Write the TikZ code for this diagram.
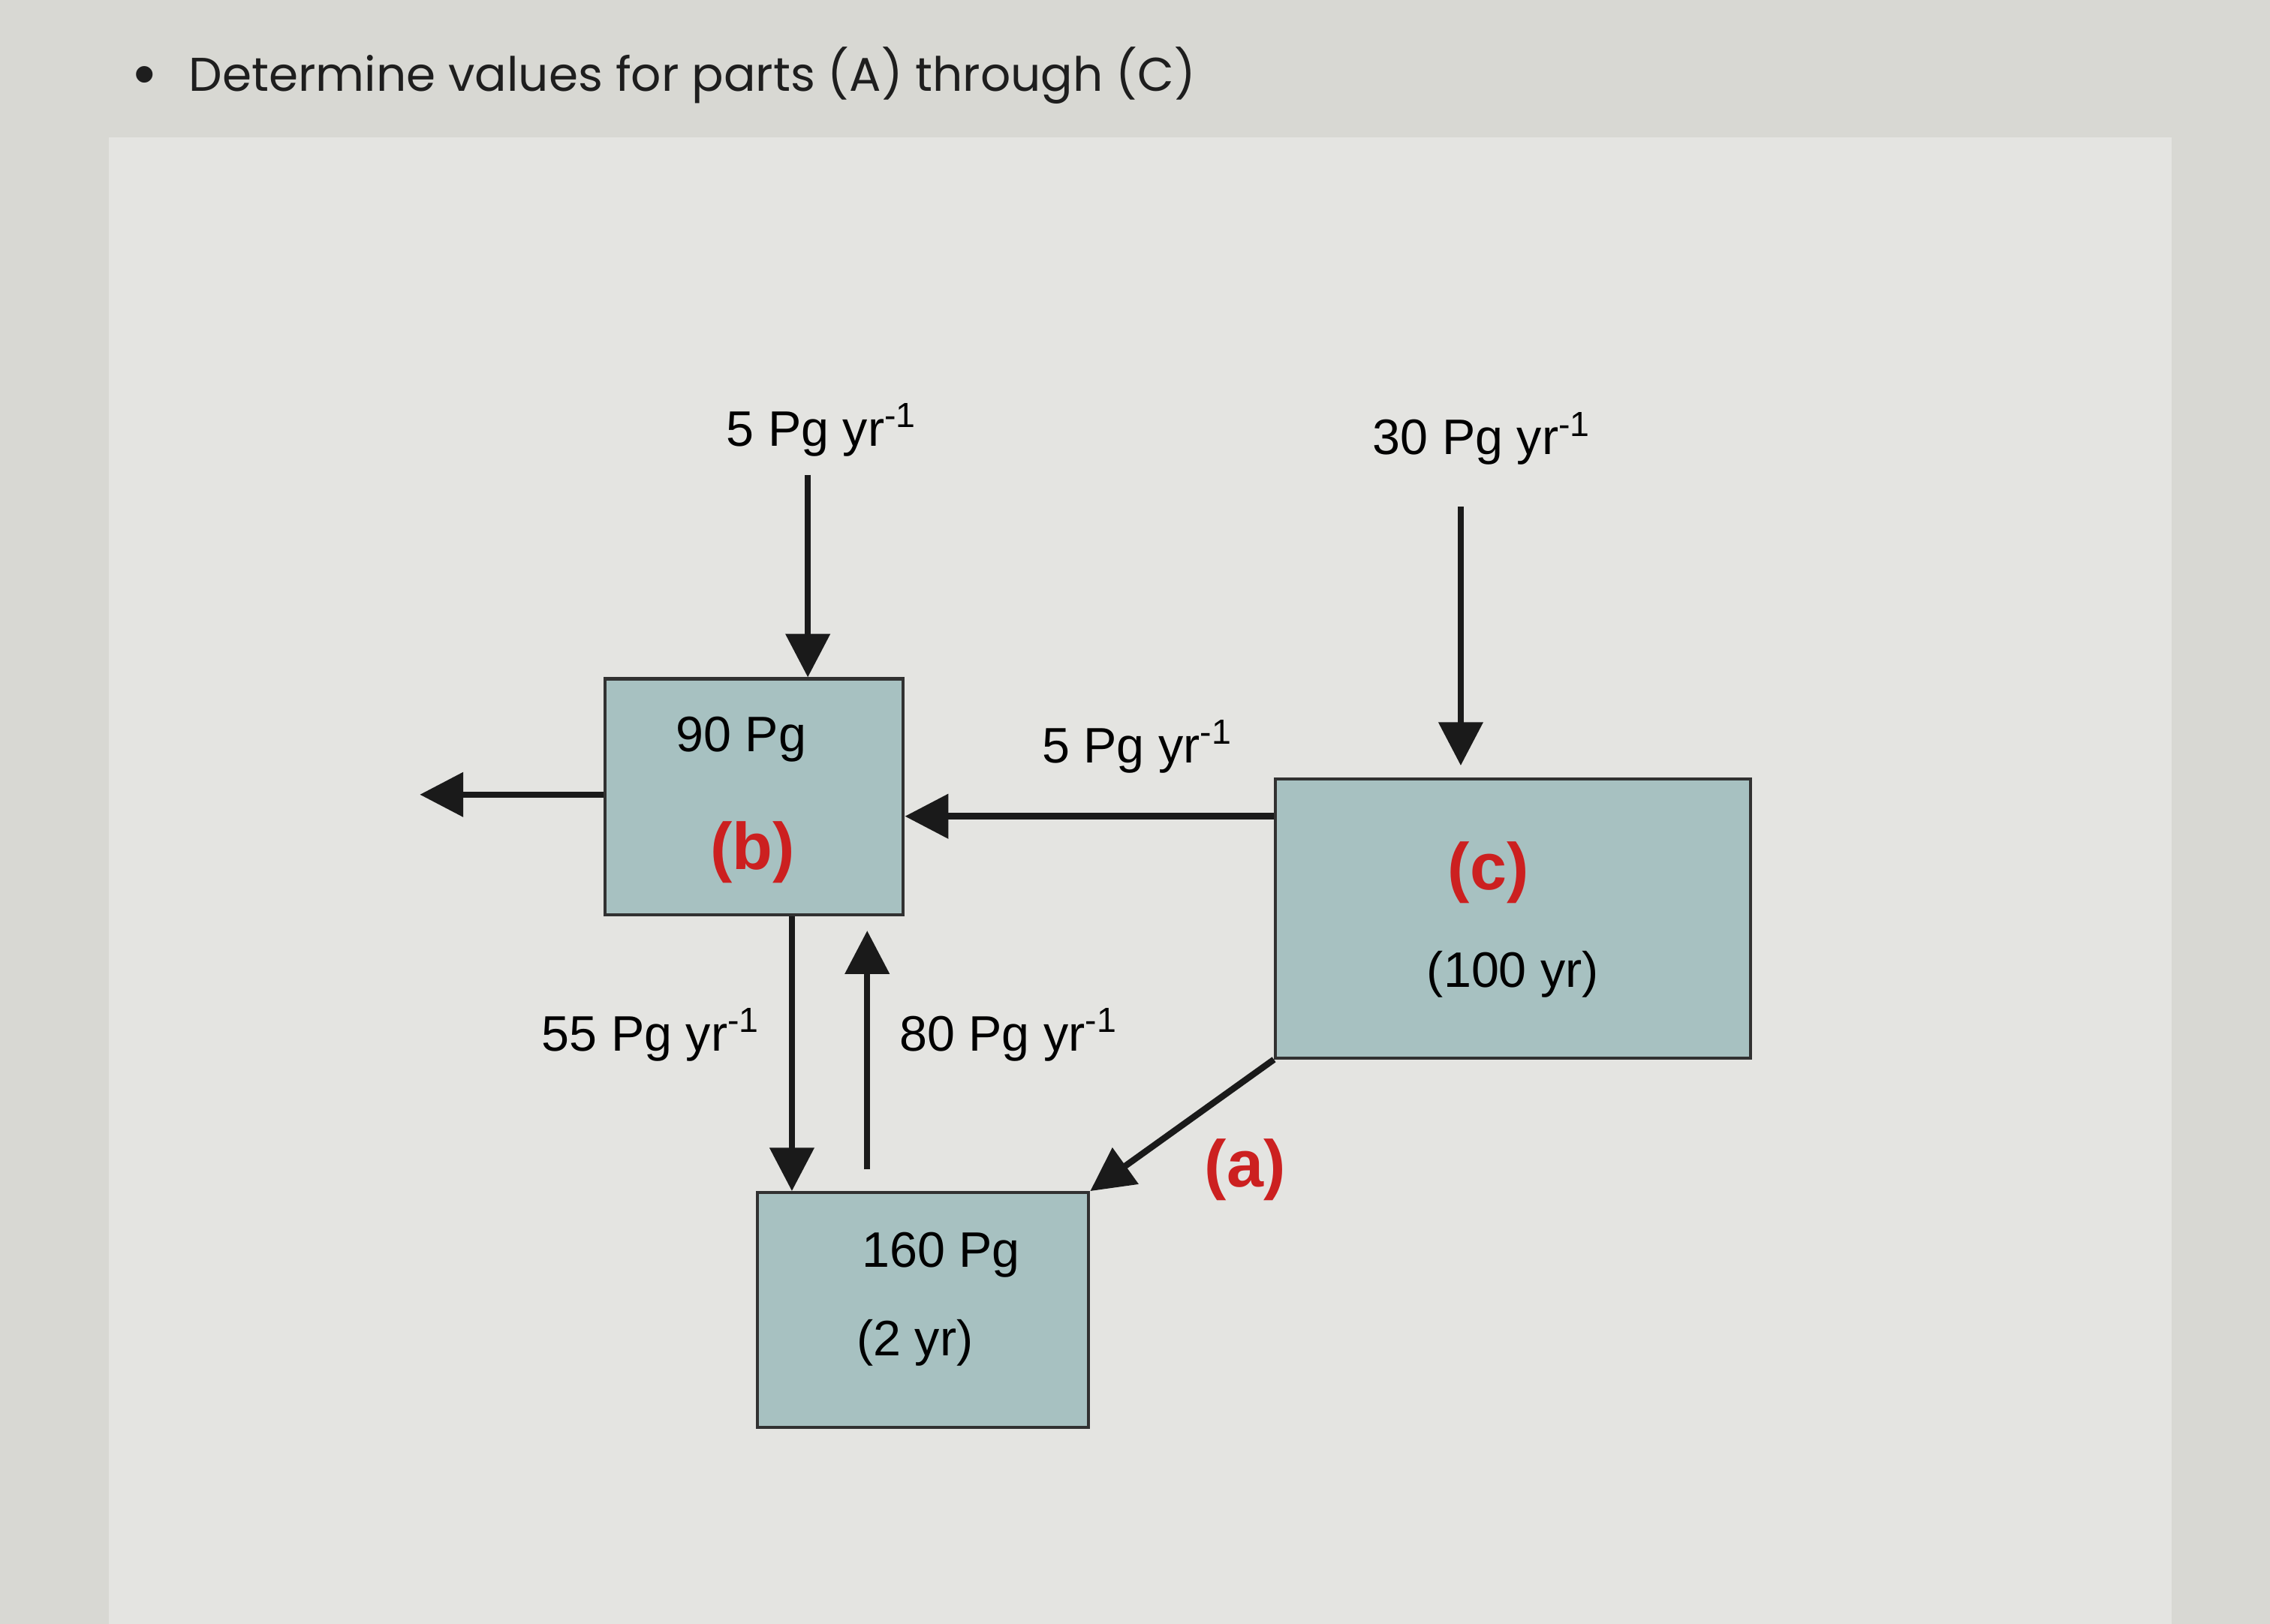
\documentclass[tikz,border=0pt]{standalone}
\usepackage{fontspec}
\setmainfont{Liberation Sans}
\newfontfamily\titlefont{Poppins}
\usetikzlibrary{positioning,arrows.meta}
\definecolor{page}{HTML}{D8D8D3}
\definecolor{panel}{HTML}{E4E4E1}
\definecolor{pool}{HTML}{A7C1C1}
\definecolor{ink}{HTML}{1A1A1A}
\definecolor{tagred}{HTML}{CC2020}
\definecolor{titleink}{HTML}{1E1E1E}

\begin{document}
\begin{tikzpicture}[x=1cm,y=1cm,font=\fontsize{9.8}{12}\selectfont,
    box/.style={draw=ink!90,line width=0.6pt,fill=pool,inner sep=0pt},
    flow/.style={draw=ink,line width=1.25pt,-{Triangle[length=0.3cm,width=0.3cm]}},
    tag/.style={text=tagred,font=\fontsize{13}{15}\selectfont\bfseries}]
  \fill[page] (0,0) rectangle (15.68,11.22);
  \fill[panel] (0.75,0) rectangle (15.0,10.27);
  \useasboundingbox (0,0) rectangle (15.68,11.22);
  % heading line
  \node[text=titleink] (dot) at (1.0,10.66) {\fontsize{12}{14}\selectfont\textbullet};
  \node[anchor=west,text=titleink,font=\titlefont\fontsize{9.3}{11}\selectfont] (head) at (1.18,10.7)
    {Determine values for parts (A) through (C)};
  % the three pools
  \node[box,minimum width=2.06cm,minimum height=1.63cm] (b) at (5.21,5.715) {};
  \node[box,minimum width=3.28cm,minimum height=1.93cm] (c) at (10.45,4.875) {};
  \node[box,minimum width=2.29cm,minimum height=1.62cm] (p) at (6.375,2.17) {};
  \node (bval) at (5.12,6.11) {90 Pg};
  \node[tag] (btag) at (5.20,5.33) {(b)};
  \node[tag] (ctag) at (10.28,5.19) {(c)};
  \node (cval) at (10.45,4.49) {(100 yr)};
  \node (pval) at (6.50,2.55) {160 Pg};
  \node (ptime) at (6.32,1.94) {(2 yr)};
  % free ends
  \coordinate (intob) at (5.58,7.94);
  \coordinate (intoc) at (10.09,7.72);
  \coordinate (outb) at (2.90,5.73);
  \coordinate (upfoot) at (5.99,3.14);
  \coordinate (uphead) at (5.99,4.79);
  % fluxes
  \draw[flow] (intob) -- (intob |- b.north);
  \draw[flow] (intoc) -- ([yshift=0.08cm]intoc |- c.north);
  \draw[flow] (b.west |- outb) -- (outb);
  \draw[flow] (c.west |- 0,5.58) -- (b.east |- 0,5.58);
  \draw[flow] (5.47,0 |- b.south) -- (5.47,0 |- p.north);
  \draw[flow] (upfoot) -- (uphead);
  \draw[flow] (c.south west) -- (p.north east);
  % flux labels
  \foreach \n/\x/\y/\v in {ltop/5.68/8.25/5, rtop/10.24/8.19/30, mid/7.86/6.06/5,
      down/4.50/4.07/55, up/6.97/4.07/80}{
    \node (\n) at (\x,\y) {\v{} Pg yr\textsuperscript{-1}};}
  \node[tag] (atag) at (8.60,3.14) {(a)};
\end{tikzpicture}
\end{document}
